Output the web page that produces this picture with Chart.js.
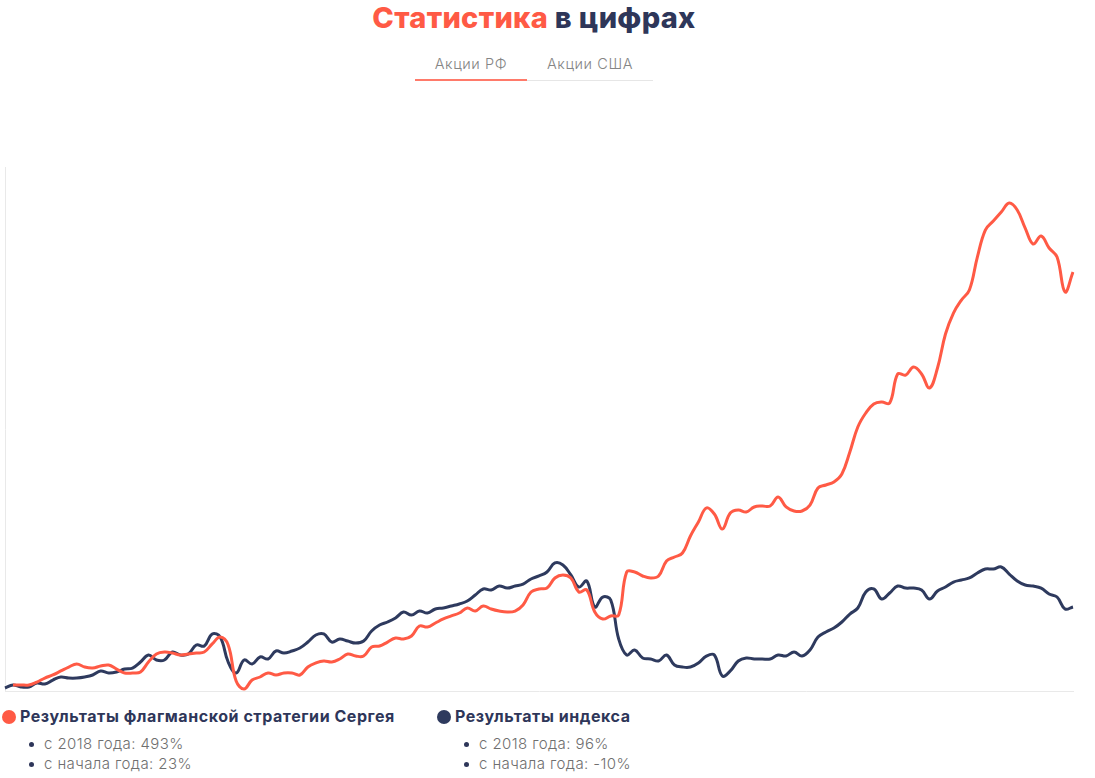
<!DOCTYPE html>
<html lang="ru">
<head>
<meta charset="utf-8">
<script src="https://cdn.jsdelivr.net/npm/chart.js@4"></script>
<style>
  html,body{margin:0;padding:0;background:#fff;width:1095px;height:778px;overflow:hidden;font-family:Inter,"Noto Sans",sans-serif;}
  #title{position:absolute;left:0;width:1068px;top:-1px;text-align:center;font-size:29px;font-weight:800;line-height:38px;color:#2e3659;letter-spacing:0.3px;}
  #title .accent{color:#ff5a45;}
  .tab{position:absolute;top:54px;font-size:14.5px;font-weight:300;color:#858585;line-height:20px;text-align:center;letter-spacing:0.6px;}
  #tab1{left:415px;width:112px;border-bottom:2px solid #ff7a6a;padding-bottom:5px;}
  #tab2{left:527px;width:126px;border-bottom:1px solid #e6e6e6;padding-bottom:6px;}
  #wrap{position:absolute;left:0;top:160px;width:1080px;height:535px;}
  .leg{position:absolute;top:704px;}
  .leg .head{font-size:16px;font-weight:700;color:#2e3659;line-height:24px;white-space:nowrap;letter-spacing:0.55px;}
  .leg .dot{display:inline-block;width:14px;height:14px;border-radius:50%;vertical-align:-2px;margin-right:4px;}
  .leg ul{margin:6px 0 0 0;padding:0 0 0 27px;list-style:none;}
  .leg li{font-size:15px;font-weight:300;color:#6f6f6f;line-height:19.5px;white-space:nowrap;position:relative;padding-left:15px;letter-spacing:0.4px;}
  .leg li:before{content:"";position:absolute;left:0;top:8px;width:5px;height:5px;border-radius:50%;background:#2e3659;}
</style>
</head>
<body>
<div id="title"><span class="accent">Статистика</span> в цифрах</div>
<div class="tab" id="tab1">Акции РФ</div>
<div class="tab" id="tab2">Акции США</div>
<div id="wrap"><canvas id="c"></canvas></div>
<div class="leg" id="leg1" style="left:2px;">
  <div class="head"><span class="dot" style="background:#ff5a45"></span>Результаты флагманской стратегии Сергея</div>
  <ul><li>с 2018 года: 493%</li><li>с начала года: 23%</li></ul>
</div>
<div class="leg" id="leg2" style="left:437px;">
  <div class="head"><span class="dot" style="background:#2e3a5e"></span>Результаты индекса</div>
  <ul><li>с 2018 года: 96%</li><li>с начала года: -10%</li></ul>
</div>
<script>
// Cumulative return since 2018, %
const strategy = [
  null, 2.2, 2.2, 2.2, 5.7, 10.5, 14.1, 18.9, 23.6, 27.2,
  23.6, 22.4, 24.8, 26.0, 21.2, 16.5, 16.5, 17.7, 29.6, 39.1,
  41.5, 40.3, 37.9, 39.1, 40.3, 41.5, 51.1, 59.4, 49.9, 6.9,
  -2.6, 8.1, 11.7, 16.5, 14.1, 16.5, 16.5, 14.1, 23.6, 28.4,
  30.8, 29.6, 33.2, 39.1, 36.7, 36.7, 47.5, 48.7, 53.4, 58.2,
  57.0, 60.6, 72.5, 71.3, 76.1, 80.9, 84.5, 88.0, 94.0, 90.4,
  96.4, 92.8, 90.4, 89.2, 90.4, 97.6, 113.1, 116.7, 117.8, 129.8,
  133.4, 129.8, 113.1, 115.5, 89.2, 80.9, 84.5, 85.6, 136.9, 136.9,
  132.2, 129.8, 132.2, 150.1, 154.8, 159.6, 179.9, 196.6, 213.3, 206.1,
  188.2, 207.3, 210.9, 208.5, 214.5, 215.6, 215.6, 226.4, 214.5, 209.7,
  209.7, 216.8, 237.1, 240.7, 244.3, 253.8, 280.1, 309.9, 326.6, 337.3,
  339.7, 338.5, 373.1, 371.9, 381.4, 373.1, 356.4, 380.2, 420.8, 445.8,
  461.3, 473.3, 512.6, 544.8, 555.6, 566.3, 577.0, 568.7, 547.2, 528.1,
  537.7, 523.4, 512.6, 470.9, 494.7
];
const indexRet = [
  -1.4, 2.2, -0.2, -0.2, 4.5, 3.3, 8.1, 11.7, 10.5, 10.5,
  11.7, 14.1, 18.9, 16.5, 17.7, 21.2, 22.4, 29.6, 37.9, 32.0,
  32.0, 41.5, 37.9, 39.1, 49.9, 48.7, 63.0, 59.4, 29.6, 16.5,
  32.0, 27.2, 35.6, 33.2, 42.7, 40.3, 42.7, 46.3, 53.4, 61.8,
  63.0, 53.4, 57.0, 54.6, 52.2, 54.6, 66.6, 73.7, 77.3, 82.1,
  89.2, 85.6, 90.4, 88.0, 92.8, 94.0, 96.4, 98.8, 102.3, 109.5,
  116.7, 115.5, 120.2, 117.8, 120.2, 122.6, 128.6, 132.2, 136.9, 147.7,
  145.3, 133.4, 119.0, 126.2, 95.2, 107.1, 103.5, 57.0, 37.9, 43.9,
  34.4, 33.2, 30.8, 37.9, 26.0, 23.6, 23.6, 28.4, 36.7, 37.9,
  12.9, 18.9, 30.8, 34.4, 33.2, 33.2, 33.2, 37.9, 36.7, 41.5,
  36.7, 43.9, 59.4, 65.4, 70.1, 77.3, 86.8, 94.0, 113.1, 116.7,
  104.7, 111.9, 120.2, 117.8, 117.8, 115.5, 104.7, 114.3, 119.0, 125.0,
  127.4, 129.8, 135.7, 140.5, 140.5, 142.9, 134.5, 126.2, 121.4, 120.2,
  117.8, 110.7, 107.1, 92.8, 95.2
];
const periods = indexRet.map((_, i) => String(i + 1));

new Chart(document.getElementById('c'), {
  type: 'line',
  data: {
    labels: periods,
    datasets: [
      {label: 'Результаты флагманской стратегии Сергея', data: strategy, borderColor: '#ff5a45', borderWidth: 3, pointRadius: 0, tension: 0.4, fill: false},
      {label: 'Результаты индекса', data: indexRet, borderColor: '#2e3a5e', borderWidth: 3, pointRadius: 0, tension: 0.4, fill: false}
    ]
  },
  options: {
    responsive: true,
    maintainAspectRatio: false,
    animation: false,
    layout: {padding: {left: 5, right: 7, top: 7, bottom: 4}},
    plugins: {legend: {display: false}, tooltip: {enabled: false}},
    scales: {
      x: {grid: {display: false, drawTicks: false}, ticks: {display: false}, border: {display: true, color: '#e9e9e9', width: 1}},
      y: {min: -5, max: 620, grid: {display: false, drawTicks: false}, ticks: {display: false}, border: {display: true, color: '#e9e9e9', width: 1}}
    }
  }
});
</script>
</body>
</html>
